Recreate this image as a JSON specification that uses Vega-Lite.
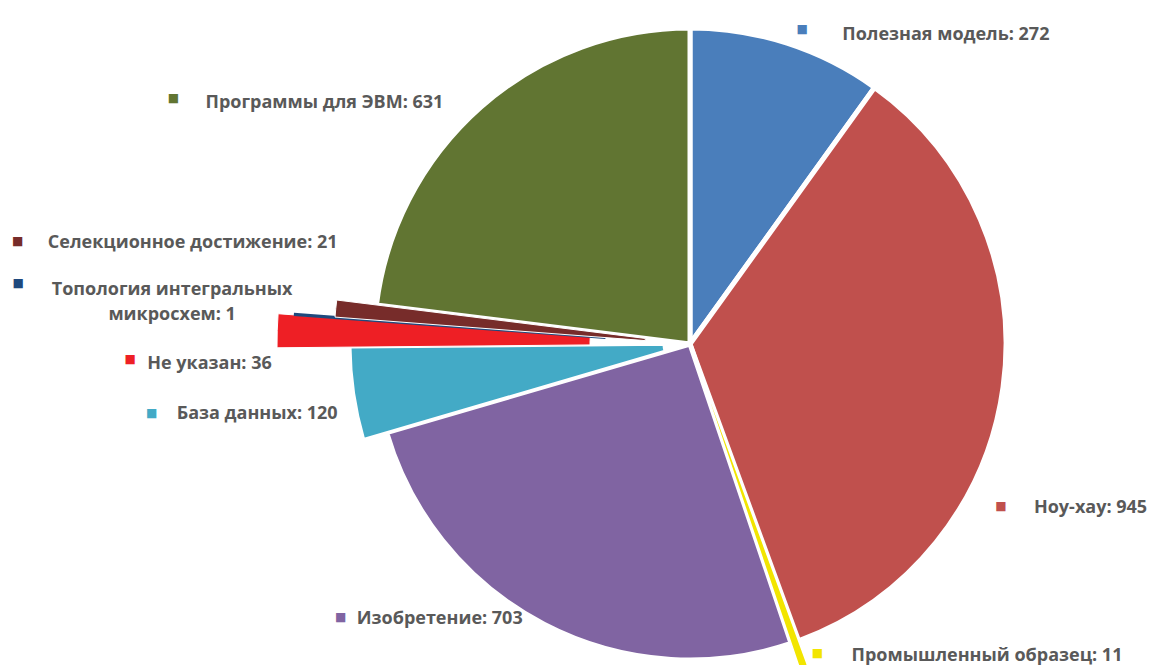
{
  "$schema": "https://vega.github.io/schema/vega-lite/v6.json",
  "width": 920,
  "height": 640,
  "autosize": "none",
  "padding": {"left": 230, "top": 24, "right": 0, "bottom": 1},
  "background": "white",
  "config": {"view": {"stroke": null}},
  "data": {
    "values": [
      {"category": "Полезная модель", "value": 272},
      {"category": "Ноу-хау", "value": 945},
      {"category": "Промышленный образец", "value": 11},
      {"category": "Изобретение", "value": 703},
      {"category": "База данных", "value": 120},
      {"category": "Не указан", "value": 36},
      {"category": "Топология интегральных\nмикросхем", "value": 1},
      {"category": "Селекционное достижение", "value": 21},
      {"category": "Программы для ЭВМ", "value": 631}
    ]
  },
  "transform": [
    {"window": [{"op": "row_number", "as": "idx"}]},
    {"stack": "value", "groupby": [], "sort": [{"field": "idx", "order": "ascending"}], "as": ["t0", "t1"]},
    {"calculate": "(datum.t0 + datum.t1) / 2", "as": "tm"},
    {"calculate": "datum.category + ': ' + datum.value", "as": "label"}
  ],
  "layer": [
    {
      "transform": [{"filter": {"field": "category", "oneOf": ["Полезная модель", "Ноу-хау", "Изобретение", "Программы для ЭВМ"]}}],
      "mark": {"type": "arc", "outerRadius": 316, "stroke": "white", "strokeWidth": 5},
      "encoding": {
        "theta": {"field": "t1", "type": "quantitative", "stack": null},
        "theta2": {"field": "t0"},
        "color": {"field": "category", "type": "nominal", "legend": null,
          "scale": {"domain": ["Полезная модель", "Ноу-хау", "Промышленный образец", "Изобретение", "База данных", "Не указан", "Топология интегральных\nмикросхем", "Селекционное достижение", "Программы для ЭВМ"],
                    "range": ["#4A7EBB", "#C0504D", "#F2E500", "#8064A2", "#43AAC6", "#EE1F25", "#1F497D", "#772C2A", "#617532"]}}
      }
    },
    {
      "transform": [{"filter": {"field": "category", "equal": "Промышленный образец"}}],
      "mark": {"type": "arc", "innerRadius": 22, "outerRadius": 342, "stroke": "white", "strokeWidth": 1.5},
      "encoding": {
        "theta": {"field": "t1", "type": "quantitative", "stack": null},
        "theta2": {"field": "t0"},
        "color": {"field": "category", "type": "nominal", "legend": null}
      }
    },
    {
      "transform": [{"filter": {"field": "category", "equal": "База данных"}}],
      "mark": {"type": "arc", "innerRadius": 26, "outerRadius": 340, "stroke": "white", "strokeWidth": 3},
      "encoding": {
        "theta": {"field": "t1", "type": "quantitative", "stack": null},
        "theta2": {"field": "t0"},
        "color": {"field": "category", "type": "nominal", "legend": null}
      }
    },
    {
      "transform": [{"filter": {"field": "category", "equal": "Не указан"}}],
      "mark": {"type": "arc", "innerRadius": 100, "outerRadius": 413, "stroke": "white", "strokeWidth": 1},
      "encoding": {
        "theta": {"field": "t1", "type": "quantitative", "stack": null},
        "theta2": {"field": "t0"},
        "color": {"field": "category", "type": "nominal", "legend": null}
      }
    },
    {
      "transform": [{"filter": {"field": "category", "equal": "Топология интегральных\nмикросхем"}}],
      "mark": {"type": "arc", "innerRadius": 86, "outerRadius": 396, "stroke": "#1F497D", "strokeWidth": 2.5},
      "encoding": {
        "theta": {"field": "t1", "type": "quantitative", "stack": null},
        "theta2": {"field": "t0"},
        "color": {"field": "category", "type": "nominal", "legend": null}
      }
    },
    {
      "transform": [{"filter": {"field": "category", "equal": "Селекционное достижение"}}],
      "mark": {"type": "arc", "innerRadius": 45, "outerRadius": 356, "stroke": "white", "strokeWidth": 1},
      "encoding": {
        "theta": {"field": "t1", "type": "quantitative", "stack": null},
        "theta2": {"field": "t0"},
        "color": {"field": "category", "type": "nominal", "legend": null}
      }
    },
    {
      "transform": [{"filter": {"field": "category", "equal": "Полезная модель"}}],
      "encoding": {"theta": {"field": "tm", "type": "quantitative"}},
      "layer": [
        {"mark": {"type": "text", "text": "■", "radius": 330, "dx": 11, "dy": -1, "align": "center", "baseline": "middle", "font": "DejaVu Sans", "fontSize": 12},
         "encoding": {"color": {"field": "category", "type": "nominal", "legend": null}}},
        {"mark": {"type": "text", "radius": 330, "dx": 51, "dy": 10, "align": "left", "baseline": "alphabetic", "font": "Open Sans", "fontWeight": "bold", "fontSize": 18, "fill": "#595959"},
         "encoding": {"text": {"field": "label"}}}
      ]
    },
    {
      "transform": [{"filter": {"field": "category", "equal": "Ноу-хау"}}],
      "encoding": {"theta": {"field": "tm", "type": "quantitative"}},
      "layer": [
        {"mark": {"type": "text", "text": "■", "radius": 330, "dx": -16, "dy": 117, "align": "center", "baseline": "middle", "font": "DejaVu Sans", "fontSize": 12},
         "encoding": {"color": {"field": "category", "type": "nominal", "legend": null}}},
        {"mark": {"type": "text", "radius": 330, "dx": 17, "dy": 124, "align": "left", "baseline": "alphabetic", "font": "Open Sans", "fontWeight": "bold", "fontSize": 18, "fill": "#595959"},
         "encoding": {"text": {"field": "label"}}}
      ]
    },
    {
      "transform": [{"filter": {"field": "category", "equal": "Промышленный образец"}}],
      "encoding": {"theta": {"field": "tm", "type": "quantitative"}},
      "layer": [
        {"mark": {"type": "text", "text": "■", "radius": 330, "dx": 18, "dy": -2, "align": "center", "baseline": "middle", "font": "DejaVu Sans", "fontSize": 12},
         "encoding": {"color": {"field": "category", "type": "nominal", "legend": null}}},
        {"mark": {"type": "text", "radius": 330, "dx": 52, "dy": 6, "align": "left", "baseline": "alphabetic", "font": "Open Sans", "fontWeight": "bold", "fontSize": 18, "fill": "#595959"},
         "encoding": {"text": {"field": "label"}}}
      ]
    },
    {
      "transform": [{"filter": {"field": "category", "equal": "Изобретение"}}],
      "encoding": {"theta": {"field": "tm", "type": "quantitative"}},
      "layer": [
        {"mark": {"type": "text", "text": "■", "radius": 310, "dx": -206, "dy": -1.5, "align": "center", "baseline": "middle", "font": "DejaVu Sans", "fontSize": 12},
         "encoding": {"color": {"field": "category", "type": "nominal", "legend": null}}},
        {"mark": {"type": "text", "radius": 310, "dx": -190, "dy": 5, "align": "left", "baseline": "alphabetic", "font": "Open Sans", "fontWeight": "bold", "fontSize": 18, "fill": "#595959"},
         "encoding": {"text": {"field": "label"}}}
      ]
    },
    {
      "transform": [{"filter": {"field": "category", "equal": "База данных"}}],
      "encoding": {"theta": {"field": "tm", "type": "quantitative"}},
      "layer": [
        {"mark": {"type": "text", "text": "■", "radius": 340, "dx": -202, "dy": 19, "align": "center", "baseline": "middle", "font": "DejaVu Sans", "fontSize": 12},
         "encoding": {"color": {"field": "category", "type": "nominal", "legend": null}}},
        {"mark": {"type": "text", "radius": 340, "dx": -177, "dy": 25, "align": "left", "baseline": "alphabetic", "font": "Open Sans", "fontWeight": "bold", "fontSize": 18, "fill": "#595959"},
         "encoding": {"text": {"field": "label"}}}
      ]
    },
    {
      "transform": [{"filter": {"field": "category", "equal": "Не указан"}}],
      "encoding": {"theta": {"field": "tm", "type": "quantitative"}},
      "layer": [
        {"mark": {"type": "text", "text": "■", "radius": 420, "dx": -140, "dy": 28, "align": "center", "baseline": "middle", "font": "DejaVu Sans", "fontSize": 12},
         "encoding": {"color": {"field": "category", "type": "nominal", "legend": null}}},
        {"mark": {"type": "text", "radius": 420, "dx": -123, "dy": 38, "align": "left", "baseline": "alphabetic", "font": "Open Sans", "fontWeight": "bold", "fontSize": 18, "fill": "#595959"},
         "encoding": {"text": {"field": "label"}}}
      ]
    },
    {
      "transform": [{"filter": {"field": "category", "equal": "Топология интегральных\nмикросхем"}}],
      "encoding": {"theta": {"field": "tm", "type": "quantitative"}},
      "layer": [
        {"mark": {"type": "text", "text": "■", "radius": 400, "dx": -273, "dy": -31, "align": "center", "baseline": "middle", "font": "DejaVu Sans", "fontSize": 12},
         "encoding": {"color": {"field": "category", "type": "nominal", "legend": null}}},
        {"mark": {"type": "text", "radius": 400, "dx": -119, "dy": -19, "align": "center", "baseline": "alphabetic", "font": "Open Sans", "fontWeight": "bold", "fontSize": 18, "fill": "#595959", "lineBreak": "\n", "lineHeight": 25},
         "encoding": {"text": {"field": "label"}}}
      ]
    },
    {
      "transform": [{"filter": {"field": "category", "equal": "Селекционное достижение"}}],
      "encoding": {"theta": {"field": "tm", "type": "quantitative"}},
      "layer": [
        {"mark": {"type": "text", "text": "■", "radius": 360, "dx": -314, "dy": -67, "align": "center", "baseline": "middle", "font": "DejaVu Sans", "fontSize": 12},
         "encoding": {"color": {"field": "category", "type": "nominal", "legend": null}}},
        {"mark": {"type": "text", "radius": 360, "dx": -284, "dy": -60, "align": "left", "baseline": "alphabetic", "font": "Open Sans", "fontWeight": "bold", "fontSize": 18, "fill": "#595959"},
         "encoding": {"text": {"field": "label"}}}
      ]
    },
    {
      "transform": [{"filter": {"field": "category", "equal": "Программы для ЭВМ"}}],
      "encoding": {"theta": {"field": "tm", "type": "quantitative"}},
      "layer": [
        {"mark": {"type": "text", "text": "■", "radius": 330, "dx": -298, "dy": 1, "align": "center", "baseline": "middle", "font": "DejaVu Sans", "fontSize": 12},
         "encoding": {"color": {"field": "category", "type": "nominal", "legend": null}}},
        {"mark": {"type": "text", "radius": 330, "dx": -266, "dy": 11, "align": "left", "baseline": "alphabetic", "font": "Open Sans", "fontWeight": "bold", "fontSize": 18, "fill": "#595959"},
         "encoding": {"text": {"field": "label"}}}
      ]
    }
  ]
}
